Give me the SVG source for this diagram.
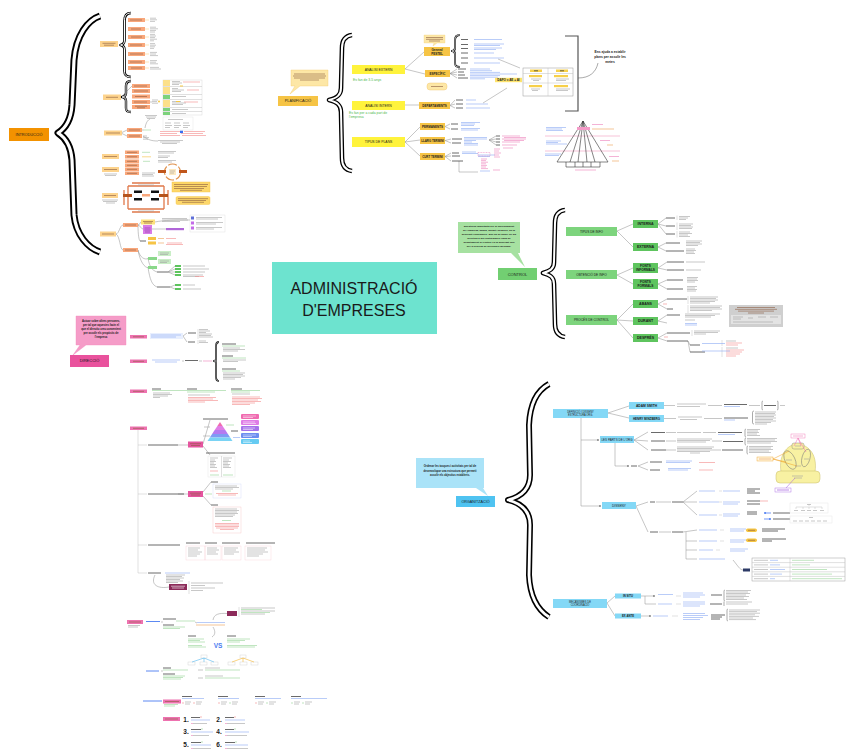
<svg xmlns="http://www.w3.org/2000/svg" width="848" height="755" viewBox="0 0 848 755">
<defs>
<style>
.t{font-family:"Liberation Sans",Arial,sans-serif;fill:#1a1a1a;text-anchor:middle}
.tb{font-family:"Liberation Sans",Arial,sans-serif;fill:#1a1a1a;text-anchor:middle;font-weight:bold}
.ts{font-family:"Liberation Sans",Arial,sans-serif}
.bo{fill:none;stroke:#000;stroke-linejoin:round}
.bi{fill:none;stroke:#fff;stroke-linejoin:round}
.c{fill:none;stroke:#8c8c8c;stroke-width:.5}
.cd{fill:none;stroke:#555;stroke-width:.5}
.k{fill:none;stroke:#a3a3a3;stroke-width:.6}
.kb{fill:none;stroke:#444;stroke-width:.8}
.kd{fill:none;stroke:#8a5a40;stroke-width:.6}
.b{fill:none;stroke:#8aaaf3;stroke-width:.6}
.g{fill:none;stroke:#96d496;stroke-width:.6}
.r{fill:none;stroke:#f48a8a;stroke-width:.6}
.m{fill:none;stroke:#ec80bb;stroke-width:.6}
.o{fill:none;stroke:#eda050;stroke-width:.6}
.gy{fill:none;stroke:#c0c0c0;stroke-width:.5}
.io{fill:#fdd38c}
.is{fill:#f9a77b}
.py{fill:#fff33c}
.po{fill:#f6c445}
.cg{fill:#7dd47d}
.cs{fill:#5ec45e}
.dp{fill:#ee72b0}
.ob{fill:#84d8f6}
</style>
<marker id="ar" viewBox="0 0 6 6" refX="5" refY="3" markerWidth="4" markerHeight="4" orient="auto"><path d="M0,0 L6,3 L0,6 z" fill="#666"/></marker>
<marker id="ab" viewBox="0 0 6 6" refX="5" refY="3" markerWidth="3" markerHeight="3" orient="auto-start-reverse"><path d="M0,0 L6,3 L0,6 z" fill="#3a6ff0"/></marker>
</defs>
<rect width="848" height="755" fill="#fff"/>

<!-- ================= TITLE ================= -->
<g id="title">
<rect x="272" y="262" width="165" height="72" fill="#6de3cf"/>
<text class="t" x="354" y="294" font-size="16">ADMINISTRACIÓ</text>
<text class="t" x="354" y="316" font-size="16">D'EMPRESES</text>
</g>

<!-- ================= CONNECTORS ================= -->
<g id="connectors">
<path class="c" d="M405,69 L424,52 M405,69 L425,74 M405,105 H419 M405,142 L420,127 M405,142 L420,140 M405,142 L420,156"/>
<path class="c" d="M498,59 L520,68 M483,103 L507,88"/>
<path class="c" d="M450,73.5 L457,69 M450,73.5 L457,72 M450,73.5 L457,75 M450,73.5 L457,78 M450,105.5 L455,100 M450,105.5 L455,104 M450,105.5 L455,108 M445,126.5 L450,124 M445,126.5 L450,129 M445,140.5 L451,139 M445,140.5 L451,143 M445,156.5 L451,153 M445,156.5 L451,156 M445,156.5 L451,161 M459,161 V172 H478"/>
<path class="cd" d="M578,78 C590,78 596,72 598,63"/>
<path class="c" d="M617,231 L633,224 M617,231 L633,247 M617,275 L633,268 M617,275 L633,284 M617,320 L633,304 M617,320 L633,321 M617,320 L633,338"/>
<path class="c" d="M658,224 L666,218 M658,224 L666,226 M658,224 L666,234 M658,247 L666,243 M658,247 L666,251 M658,268 L667,262 M658,268 L667,270 M658,284 L667,280 M658,284 L667,289 M658,304 L667,299 M658,304 L667,309 M658,321 L667,315 M658,321 L667,323 M658,338 L667,333 M658,338 L667,341 M688,341 L690,345 M688,341 L690,352"/>
<path class="c" d="M608,413 L629,406 M608,413 L629,418 M581,418 V506 M607,603 L615,596 M607,603 L615,616"/>
<path class="c" marker-end="url(#ar)" d="M581,440 H599"/>
<path class="c" marker-end="url(#ar)" d="M581,506 H601"/>
<path class="c" d="M634,440 L648,432 M634,440 L648,441 M634,440 L648,450 M615,443 V466"/>
<path class="c" marker-end="url(#ar)" d="M615,466 H629"/>
<path class="c" d="M638,466 L648,462 M638,466 L648,470 M636,506 L648,502 M636,506 L648,532 M683,502 L697,491 M683,502 L697,502 M683,502 L697,515 M683,532 L697,530 M686,532 V559 M686,541 H697 M686,550 H697 M686,559 H697"/>
<path class="c" d="M733,560 C738,566 740,570 743,570"/>
<path class="c" marker-end="url(#ar)" d="M641,596 H655"/>
<path class="c" d="M645,596 V604 H656"/>
<path class="c" marker-end="url(#ar)" d="M641,616 H651"/>
<path class="c" d="M664,405.5 H675 M708,405.5 H722 M749,405.5 H760 M664,418.5 H676 M704,418.5 H722 M666,432.5 H676 M666,441 H676 M666,450 H676 M703,432.5 H716 M712,441 H722 M714,450 H721"/>
<path class="c" d="M183,336 L187,333 M183,336 L187,342 M182,361 H184 M199,361 H202"/>
<path class="gy" d="M138,430 V573 M138,445 H147 M138,494 H147 M138,545 H147 M138,573 H147"/>
<path class="c" d="M178,445 H188 M203,444 L210,420 M203,446 L210,455 M178,494 H188 M203,492 L211,482 M203,496 L211,505 M155,575 C150,585 158,589 169,587"/>
<path class="c" d="M161,622 H163 M195,622 L197,623 M213,627 C216,632 215,635 212,637 M213,620 C214,614 219,613 227,613.5"/>
<path class="c" d="M161,671 H163 M198,670 H203 M198,678 H203"/>
<path class="c" d="M121,97 L132,86 M150,102 H152 M121,133 L127,130 M121,133 L127,136 M142,130 H144 M143,136 C148,140 152,141 158,141 M145,128 C146,122 148,120 150,119"/>
<path class="c" d="M116,234 C119,234 120,225 123,225 M116,234 C120,236 120,250 123,250 M138,225 C140,225 140,222 141,222 M138,225 C140,225 141,229 143,229 M138,225 C138,235 139,240 140,241 M155,222 C165,220 175,220 190,220 M152,229 C158,229 160,229 166,229 M138,250 C140,258 145,260 148,258.5 M138,250 C140,262 145,268 148,267.5 M148,258.5 C150,268 152,270 157,272 M148,267.5 C150,280 152,285 157,287"/>
<path class="c" d="M168,272 L175,266 M168,272 L175,269 M168,272 L175,272 M168,272 L175,275 M170,287 L175,285 M170,287 L175,289"/>
</g>

<!-- ================= INTRODUCCIO ================= -->
<g id="introduccio">
<rect x="9" y="128" width="40" height="13" fill="#f39200"/>
<text class="t" x="29" y="136" font-size="3.8">INTRODUCCIÓ</text>
</g>
<g id="brace-intro">
<path class="bo" stroke-width="7" d="M100,16 C88,20 76,35 74,60 L72,105 C71,120 66,128 58,133 C66,138 71,146 72,160 L74,215 C76,235 88,248 100,252"/>
<path class="bi" stroke-width="3.2" d="M100,16 C88,20 76,35 74,60 L72,105 C71,120 66,128 58,133 C66,138 71,146 72,160 L74,215 C76,235 88,248 100,252"/>
</g>

<g id="intro-b1">
<rect class="io" x="100" y="41" width="18" height="6"/>
<path class="kd" d="M102.5,43.3h13 M104,45.2h10"/>
<path class="bo" stroke-width="2.6" d="M131,13 C126,13 124.5,16 124.5,21 L124.5,40 C124.5,43 123.5,44.5 120.5,45 C123.5,45.5 124.5,47 124.5,50 L124.5,71 C124.5,75 126,77 131,77"/>
<path class="bi" stroke-width="1" d="M131,13 C126,13 124.5,16 124.5,21 L124.5,40 C124.5,43 123.5,44.5 120.5,45 C123.5,45.5 124.5,47 124.5,50 L124.5,71 C124.5,75 126,77 131,77"/>
<rect class="is" x="128" y="18" width="17" height="4"/><rect class="is" x="128" y="27" width="17" height="4"/><rect class="is" x="128" y="35" width="17" height="4"/><rect class="is" x="128" y="43" width="17" height="4"/><rect class="is" x="128" y="52" width="17" height="4"/><rect class="is" x="128" y="60" width="17" height="4"/><rect class="is" x="128" y="66" width="17" height="4"/>
<path class="kd" d="M130,20h12 M131,29h10 M131,37h11 M130,45h12 M130,54h13 M130,62h12 M131,68h11"/>
<path fill="none" stroke="#fdd38c" stroke-width=".6" d="M145,20h4 M145,29h4 M145,37h4 M145,45h4 M145,54h4 M145,62h4 M145,68h4"/>
<path class="k" d="M150,18.2h6 M150,19.8h7 M150,21.4h5 M150,27.2h6 M150,28.8h8 M150,30.4h6 M150,32h5 M150,34.4h5 M150,36h6 M150,37.6h5 M150,39.2h7 M150,40.8h4 M150,43.6h5 M150,45.2h6 M150,46.8h5 M150,48.4h4 M150,52.4h7 M150,54h6 M150,55.6h8 M150,60.6h7 M150,62.2h6 M150,63.8h8 M150,67.4h9 M150,69h11"/>
</g>

<g id="intro-b2">
<rect class="io" x="103" y="94.5" width="18" height="5.5"/>
<path class="kd" d="M106,97.3h12"/>
<path class="bo" stroke-width="2.4" d="M131,81 C127,81 126,83 126,86 L126,93 C126,95.5 125,96.5 122,97 C125,97.5 126,98.5 126,101 L126,108 C126,111 127,112 131,112"/>
<path class="bi" stroke-width=".9" d="M131,81 C127,81 126,83 126,86 L126,93 C126,95.5 125,96.5 122,97 C125,97.5 126,98.5 126,101 L126,108 C126,111 127,112 131,112"/>
<rect class="is" x="132" y="84" width="18" height="4"/><rect class="is" x="132" y="89" width="18" height="4"/><rect class="is" x="132" y="94.5" width="18" height="4"/><rect class="is" x="132" y="100" width="18" height="4"/><rect class="is" x="132" y="105" width="18" height="4"/>
<path class="kd" d="M134,86h13 M134,91h14 M135,96.5h12 M134,102h13 M135,106.2h12 M137,107.8h8"/>
<path class="k" d="M152,100h6 M152,101.6h5 M152,103.2h6"/>
<circle cx="159" cy="101.5" r="1" fill="#f7c843"/>
<rect x="163" y="80" width="39" height="35" fill="#fff" stroke="#d0d0d0" stroke-width=".4"/>
<rect x="163" y="80" width="7" height="6" fill="#fce08a"/><rect x="163" y="87" width="7" height="7" fill="#fce08a"/><rect x="163" y="95" width="7" height="4" fill="#7cd27c"/><rect x="163" y="100" width="7" height="7" fill="#fce08a"/><rect x="163" y="108" width="7" height="3" fill="#7cd27c"/><rect x="163" y="112" width="7" height="3" fill="#7cd27c"/>
<path class="gy" d="M163,86.5h39 M163,94.5h39 M163,99.5h39 M163,107.5h39 M163,111.5h39"/>
<path class="k" d="M172,81.5h8 M172,83h10 M172,84.5h7 M172,88.5h6 M172,90h12 M172,91.5h9 M172,96.5h14 M172,101.5h9 M172,103h14 M172,104.5h11 M172,109.5h16 M172,113.5h14"/>
<path class="r" d="M183,82h17 M184,102h14 M187,90h12"/>
<path fill="none" stroke="#f7c843" stroke-width="1" d="M180,86h3 M176,101.5h4"/>
</g>

<g id="intro-b3">
<rect class="io" x="104" y="130.5" width="18" height="5"/>
<path class="kd" d="M106,133h14"/>
<rect class="is" x="127" y="128" width="15" height="4"/><rect class="is" x="127" y="134" width="15" height="4"/>
<path class="kd" d="M129,130h11 M129,136h11"/>
<path class="g" d="M144,130h7"/>
<path class="k" d="M145,115.5h12 M146,117h10 M147,118.5h8 M158,140.5h25 M160,142h20 M162,143.5h15 M143,136h4 M143,137.6h6 M143,139.2h5"/>
<rect x="163" y="117" width="30" height="13" fill="#fff" stroke="#e0e0e0" stroke-width=".4"/>
<path class="k" d="M168,119.5h15 M165,123h6 M174,123h6 M183,123h6 M165,125.5h7 M174,125.5h7 M183,125.5h7 M165,127.5h5 M174,127.5h5 M183,127.5h5"/>
<path class="r" d="M160,131.5h21 M184,131.5h21 M160,133.5h17 M181,133.5h22 M160,135.5h20 M182,135.5h24"/>
<rect x="180" y="130.7" width="3" height="2.4" fill="#3a6ff0"/>
</g>

<g id="intro-b4">
<rect class="io" x="102" y="154" width="17" height="5"/>
<path class="kd" d="M104,156.5h13"/>
<rect class="is" x="125" y="150.5" width="14" height="3.5"/><rect class="is" x="125" y="155" width="14" height="3.5"/><rect class="is" x="125" y="159.5" width="14" height="3.5"/>
<path class="kd" d="M127,152.3h10 M127,156.8h10 M127,161.3h10"/>
<path class="g" d="M142,152.3h8 M143,161.3h7"/>
<path fill="none" stroke="#f7d070" stroke-width=".8" d="M142,156.8h9"/>
<path class="k" d="M158,151.5h18 M158,153h16 M158,156h12 M158,157.5h10 M158,160.5h18 M158,162h14"/>
</g>

<g id="intro-b5">
<rect class="io" x="102" y="167" width="17" height="5"/>
<path class="kd" d="M104,169.5h13"/>
<path class="k" d="M104,174h13 M105,175.5h11"/>
<rect class="is" x="125" y="163.5" width="14" height="3.5"/><rect class="is" x="125" y="167.5" width="14" height="3.5"/><rect class="is" x="125" y="171.5" width="14" height="3.5"/>
<path class="kd" d="M127,165.3h10 M127,169.3h10 M127,173.3h10"/>
<path class="k" d="M142,173h13 M142,174.5h11 M142,176h12"/>
<circle cx="172.5" cy="172" r="8" fill="none" stroke="#e0904a" stroke-width="1.1" stroke-dasharray="9 2"/>
<rect x="158" y="170" width="8" height="3" fill="#c0561c"/><rect x="179" y="170" width="8" height="3" fill="#c0561c"/>
<rect x="169" y="169" width="7" height="6" fill="#fde9c0"/>
<path class="k" d="M170,171h5 M170,173h4"/>
</g>

<g id="intro-b6">
<rect class="io" x="102" y="193" width="16" height="5"/>
<path class="kd" d="M104,195.5h12"/>
<path class="k" d="M102,200h16 M103,201.5h14 M106,203h9"/>
<path fill="none" stroke="#e0784a" stroke-width="1.3" d="M128,186 V209 M164,186 V209 M128,186 H164 M128,209 H164 M132,183 H160 M132,212 H160 M124,190 V205 M168,190 V205"/>
<path class="k" d="M138,185h16 M138,211h16"/>
<rect x="123" y="194" width="9" height="3" fill="#b5531c"/><rect x="159" y="194" width="9" height="3" fill="#b5531c"/>
<rect x="134" y="190.5" width="8" height="2.5" fill="#111"/><rect x="151" y="190.5" width="8" height="2.5" fill="#111"/><rect x="134" y="198" width="8" height="2.5" fill="#111"/><rect x="151" y="198" width="8" height="2.5" fill="#111"/>
<rect x="142" y="194" width="8" height="2.5" fill="#f9a77b"/>
<rect x="172" y="182" width="38" height="10" fill="#fdd76a" stroke="#f5c040" stroke-width=".4"/>
<path class="kd" d="M174,184.5h34 M174,186.5h33 M174,188.5h30 M180,190.3h22"/>
<rect x="176" y="196.5" width="34" height="8" rx="1.5" fill="#fdd76a" stroke="#f5c040" stroke-width=".4"/>
<path class="kd" d="M178,198.7h30 M178,200.5h28 M182,202.3h22"/>
</g>

<g id="intro-b7">
<rect class="io" x="100" y="231.5" width="16" height="5"/>
<path class="kd" d="M102,234h12"/>
<rect class="is" x="123" y="223" width="15" height="4"/>
<path class="kd" d="M125,225h11"/>
<rect x="141" y="219.5" width="14" height="5" fill="#fde17a"/>
<path class="kd" d="M143,221.5h10 M144,223h8"/>
<rect x="143" y="225" width="9" height="9" fill="#d97be8"/>
<path fill="none" stroke="#7a2a90" stroke-width=".5" d="M144.5,228h6 M144.5,230h6 M145,232h5"/>
<path class="kb" d="M140,241h6"/>
<rect x="148" y="237" width="8" height="3" fill="#f6c445"/><rect x="148" y="241.5" width="8" height="3" fill="#f6c445"/>
<path class="o" d="M158,238.5h6 M158,243h6"/>
<path class="r" d="M166,238.5h10 M167,243h15 M166,244.5h17"/>
<path class="k" d="M162,218.5h25 M162,220h26 M162,221.5h18"/>
<rect x="166" y="228" width="18" height="2.2" fill="#b065d8"/>
<rect x="190" y="215" width="35" height="17" fill="#fff" stroke="#dcdcdc" stroke-width=".4"/>
<rect x="191" y="216.5" width="3" height="3" fill="#5e6fd8"/><rect x="191" y="221.5" width="3" height="3" fill="#c46be8"/><rect x="191" y="226.5" width="3" height="3" fill="#c46be8"/>
<path class="k" d="M196,217.5h26 M196,219h22 M196,222.5h27 M196,224h20 M196,227.5h26 M196,229h18"/>
</g>

<g id="intro-b8">
<rect class="is" x="123" y="248" width="15" height="4"/>
<path class="kd" d="M125,250h11"/>
<rect x="148" y="257" width="9" height="3" fill="#8ad88a"/><rect x="148" y="266" width="9" height="3" fill="#8ad88a"/>
<rect x="158" y="251" width="13" height="5" fill="#c9eec6"/><rect x="158" y="259" width="13" height="5" fill="#c9eec6"/>
<path class="k" d="M160,253h9 M160,254.5h8 M160,261h9 M160,262.5h7"/>
<path class="kb" d="M157,272h11 M157,287h13"/>
<rect x="175" y="265" width="6" height="2" fill="#5ec45e"/><rect x="175" y="268" width="6" height="2" fill="#5ec45e"/><rect x="175" y="271" width="6" height="2" fill="#5ec45e"/><rect x="175" y="274" width="6" height="2" fill="#5ec45e"/><rect x="175" y="284" width="6" height="2" fill="#5ec45e"/><rect x="175" y="288" width="6" height="2" fill="#5ec45e"/>
<path class="k" d="M183,266h22 M183,269h26 M183,272h22 M183,275h20 M183,276.5h16 M183,285h12 M183,289h18"/>
<path class="r" d="M195,276.5h9"/>
</g>

<!-- ================= PLANIFICACIO ================= -->
<g id="planificacio">
<path d="M291,70 H328 V86 H300 L290,94 L295,86 H291 Z" fill="#fde7a6" stroke="#f3cd6e" stroke-width=".4"/>
<path class="kd" d="M294,74h31 M293,76h33 M294,78h31 M300,80h19"/>
<rect x="278" y="96" width="40" height="10" fill="#f6c445"/>
<text class="t" x="298" y="102.4" font-size="3.8">PLANIFICACIÓ</text>
</g>
<g id="brace-plan">
<path class="bo" stroke-width="4.6" d="M352,35 C345,36 342,40 342,48 L341,88 C341,95 337,98 329,100 C337,102 341,105 341,112 L342,158 C342,166 345,170 352,171"/>
<path class="bi" stroke-width="2" d="M352,35 C345,36 342,40 342,48 L341,88 C341,95 337,98 329,100 C337,102 341,105 341,112 L342,158 C342,166 345,170 352,171"/>
</g>
<g id="analisi-extern">
<rect class="py" x="352" y="65" width="53" height="9"/>
<text class="t" x="378.5" y="70.8" font-size="3.4">ANÀLISI EXTERN</text>
<text class="ts" x="353" y="81.3" font-size="3.4" fill="#4cb84c">Es fan de 3-5 anys</text>
</g>
<g id="analisi-intern">
<rect class="py" x="352" y="101" width="53" height="9"/>
<text class="t" x="378.5" y="106.8" font-size="3.4">ANÀLISI INTERN</text>
<text class="ts" x="349" y="113.8" font-size="3.4" fill="#4cb84c">Es fan per a cada part de</text>
<text class="ts" x="349" y="118.3" font-size="3.4" fill="#4cb84c">l'empresa</text>
</g>
<g id="tipus-plans">
<rect class="py" x="352" y="137" width="53" height="10"/>
<text class="t" x="378.5" y="143.2" font-size="3.4">TIPUS DE PLANS</text>
</g>
<g id="pestel">
<path d="M424,35 H445 V43 H437 L433,46 L434,43 H424 Z" fill="#fde7a6" stroke="#f3cd6e" stroke-width=".3"/>
<path class="kd" d="M426,37.5h17 M426,39.3h17 M429,41h11"/>
<rect class="po" x="424" y="47" width="26" height="9"/>
<text class="tb" x="437" y="51" font-size="3">General</text>
<text class="tb" x="437" y="54.6" font-size="3">PESTEL</text>
<path class="bo" stroke-width="2" d="M460,35 C456,35 455,37 455,40 L455,48 C455,50 454,51 452,51 C454,51 455,52 455,54 L455,63 C455,66 456,67 460,67"/>
<path class="bi" stroke-width=".8" d="M460,35 C456,35 455,37 455,40 L455,48 C455,50 454,51 452,51 C454,51 455,52 455,54 L455,63 C455,66 456,67 460,67"/>
<path class="kb" d="M461,39.5h7 M461,44.5h7 M461,48.5h7 M461,53h7 M461,58h7 M461,63h7"/>
<path class="b" d="M474,39.5h28 M474,44h30 M474,45.5h26 M474,48h28 M474,49.5h22 M474,53h20 M474,58h30 M474,63h26"/>
</g>
<g id="especific">
<rect class="po" x="425" y="70" width="25" height="7"/>
<text class="tb" x="437.5" y="74.8" font-size="3">ESPECÍFIC</text>
<path class="kb" d="M458,69h8 M458,72h6 M458,75h7 M458,78h10"/>
<path class="b" d="M470,69h20 M470,70.7h22 M470,72.4h30 M470,74h47 M470,75.6h30 M470,77.2h28 M470,78.8h15"/>
<rect x="427" y="83" width="20" height="7" rx="3" fill="#fde7a6" stroke="#f0c060" stroke-width=".4"/>
<path class="kd" d="M431,86.5h12"/>
</g>
<g id="departaments">
<rect class="po" x="419" y="102" width="31" height="7"/>
<text class="tb" x="434.5" y="106.8" font-size="3">DEPARTAMENTS</text>
<path class="kb" d="M456,100h7 M456,104h7 M456,108h7"/>
<path class="b" d="M466,100h10 M466,104h22 M466,108h24"/>
</g>
<g id="dafo">
<rect x="495" y="77.8" width="27" height="4.4" fill="#fde36e"/>
<text class="tb" x="508.5" y="81.2" font-size="3">DAFO = AE + AI</text>
<rect x="523" y="68" width="50" height="28" fill="#fff" stroke="#999" stroke-width=".5"/>
<path class="gy" d="M548,68 V96 M523,73.5 H573 M523,83 H573"/>
<rect x="530" y="69.5" width="12" height="2.5" fill="#f7d04a"/><rect x="556" y="69.5" width="12" height="2.5" fill="#f7d04a"/>
<rect x="529" y="75" width="13" height="2.2" fill="#f7d04a"/><rect x="554" y="75" width="14" height="2.2" fill="#f7d04a"/>
<rect x="529" y="85" width="13" height="2.2" fill="#f7d04a"/><rect x="554" y="85" width="14" height="2.2" fill="#f7d04a"/>
<path class="kb" d="M534,70.8h4 M560,70.8h4"/>
<path class="k" d="M531,79h10 M533,80.5h6 M556,79h13 M556,80.5h10 M531,89h9 M532,90.5h6 M556,89h14 M556,90.5h12"/>
<path fill="none" stroke="#555" stroke-width="1.2" d="M565,36 H578 V111 H565"/>
<text class="tb" x="610" y="52.5" font-size="3.3">Ens ajuda a establir</text>
<text class="tb" x="610" y="57.7" font-size="3.3">plans per assolir les</text>
<text class="tb" x="610" y="62.9" font-size="3.3">metes</text>
</g>
<g id="permanents">
<rect class="po" x="420" y="123" width="25" height="7"/>
<text class="tb" x="432.5" y="127.8" font-size="3">PERMANENTS</text>
<path class="kb" d="M451,124h7 M451,129h7"/>
<path class="b" d="M461,122.5h19 M461,124h14 M461,125.5h13 M461,128.5h19 M461,130h17"/>
</g>
<g id="llarg-termini">
<rect class="po" x="420" y="137" width="25" height="7"/>
<text class="tb" x="432.5" y="141.8" font-size="2.9">LLARG TERMINI</text>
<path class="kb" d="M452,139h10 M452,143h9"/>
<path class="b" d="M464,137.5h23 M464,139h23 M464,140.5h12 M464,142h8 M464,143.5h14 M464,145h14"/>
<path class="c" d="M489,140 L496,136 M489,140 L496,139 M489,140 L496,142 M489,140 L496,145"/>
<path class="kb" d="M496,136h4 M496,139h4 M496,142h4 M496,145h4"/>
<path class="m" d="M502,136h18 M504,137.5h22 M502,139h24 M504,140.5h20 M502,142h18 M502,145h15 M503,148h10"/>
</g>
<g id="curt-termini">
<rect class="po" x="420" y="153" width="25" height="7"/>
<text class="tb" x="432.5" y="157.8" font-size="2.9">CURT TERMINI</text>
<path class="kb" d="M452,153h7 M452,156h8 M452,161h11"/>
<path class="b" d="M462,152h14 M462,153.5h16 M478,155h17 M478,156.5h12 M480,171h10"/>
<rect x="478" y="152.5" width="12" height="3.5" fill="none" stroke="#e65aa8" stroke-width=".4" stroke-dasharray="1 .6"/>
<path class="m" d="M481,159h6 M481,160.6h5 M481,162.2h7 M481,163.8h5 M481,165.4h6 M481,167h5 M481,168.6h7 M493,170h7 M494,149h6 M494,151h5 M494,153h7 M494,155h5 M494,157h6"/>
</g>
<g id="piramide-plans">
<path fill="none" stroke="#f7c3d8" stroke-width="1" d="M545,136h75 M545,151h75"/>
<path fill="none" stroke="#333" stroke-width=".6" d="M583,121 L557,162 H608 Z M583,121 L570,162 M583,121 L578,162 M583,121 L587,162 M583,121 L595,162 M566,162 V167 H600 V162 M575,162 V167 M583,162 V167 M591,162 V167"/>
<rect x="577" y="127" width="13" height="3" fill="#f59bc8"/>
<path class="b" d="M546,127.5h20 M546,129h16 M546,130.5h17 M546,141h15 M546,142.5h12 M546,144h21 M545,154h16 M545,155.5h14"/>
<path class="m" d="M592,124.5h11 M600,140.5h10 M609,156.5h10 M575,170h21"/>
<path class="o" d="M592,129h22 M607,145h6 M612,161h7"/>
</g>

<!-- ================= CONTROL ================= -->
<g id="control">
<path d="M458,222 H520 V253 H518 L525,267 L511,253 H458 Z" fill="#a6e1a1"/>
<text class="tb" x="489" y="227" font-size="2.5">Questions importants per al funcionament</text>
<text class="tb" x="489" y="231" font-size="2.5">de l'empresa, abans, durant i després, on fa</text>
<text class="tb" x="489" y="235" font-size="2.5">generant l'informació. Que ha de poder fer als</text>
<text class="tb" x="489" y="239" font-size="2.5">directius a als controladors (caps de</text>
<text class="tb" x="489" y="243" font-size="2.5">departament) El control es fa generant info</text>
<text class="tb" x="489" y="247" font-size="2.5">per a la presa de decisions racionals.</text>
<rect x="498" y="268" width="39" height="12" fill="#72cf72"/>
<text class="t" x="517.5" y="275.5" font-size="4">CONTROL</text>
</g>
<g id="brace-control">
<path class="bo" stroke-width="4.6" d="M565,210 C558,211 555,215 555,223 L554,262 C554,269 550,271 543,273 C550,275 554,277 554,284 L555,324 C555,332 558,336 565,337"/>
<path class="bi" stroke-width="2" d="M565,210 C558,211 555,215 555,223 L554,262 C554,269 550,271 543,273 C550,275 554,277 554,284 L555,324 C555,332 558,336 565,337"/>
</g>
<g id="tipus-info">
<rect class="cg" x="566" y="227" width="51" height="9"/>
<text class="t" x="591.5" y="232.6" font-size="3.2">TIPUS DE INFO</text>
</g>
<g id="obtencio-info">
<rect class="cg" x="566" y="270" width="51" height="9"/>
<text class="t" x="591.5" y="275.6" font-size="3.2">OBTENCIÓ DE INFO</text>
</g>
<g id="proces-control">
<rect class="cg" x="566" y="315" width="51" height="10"/>
<text class="t" x="591.5" y="321.2" font-size="3.2">PROCÉS DE CONTROL</text>
</g>
<g id="interna">
<rect class="cs" x="633" y="220" width="25" height="8"/>
<text class="tb" x="645.5" y="225.4" font-size="3.6">INTERNA</text>
<path class="kb" d="M666,218h9 M666,226h9 M666,234h9"/>
<path class="gy" d="M677,215.5 V220 M677,222.5 V230 M677,231 V237.5"/>
<path class="k" d="M679,216.5h11 M679,218h9 M679,219.5h7 M679,224h14 M679,225.5h12 M679,227h14 M679,228.5h13 M679,232h11 M679,233.5h13 M679,235h9 M679,236.5h11"/>
</g>
<g id="externa">
<rect class="cs" x="633" y="243" width="25" height="8"/>
<text class="tb" x="645.5" y="248.4" font-size="3.6">EXTERNA</text>
<path class="kb" d="M666,243h14 M666,251h18"/>
<path class="k" d="M686,241h16 M686,242.5h14 M686,244h16 M686,245.5h12 M686,249h9 M686,250.5h10 M686,252h8 M686,253.5h9"/>
</g>
<g id="fonts-informals">
<rect class="cs" x="633" y="263" width="25" height="10"/>
<text class="tb" x="645.5" y="267.2" font-size="3.2">FONTS</text>
<text class="tb" x="645.5" y="271.2" font-size="3.2">INFORMALS</text>
<path class="kb" d="M667,262h17 M667,270h17"/>
<path class="k" d="M686,262h19 M686,270h15"/>
</g>
<g id="fonts-formals">
<rect class="cs" x="633" y="279" width="25" height="10"/>
<text class="tb" x="645.5" y="283.2" font-size="3.2">FONTS</text>
<text class="tb" x="645.5" y="287.2" font-size="3.2">FORMALS</text>
<path class="kb" d="M667,280h16 M667,289h16"/>
<path class="k" d="M687,277.5h11 M687,279h10 M687,280.5h11 M687,282h8 M687,286.5h10 M687,288h8 M687,289.5h10 M687,291h9"/>
</g>
<g id="abans">
<rect class="cs" x="633" y="300" width="25" height="8"/>
<text class="tb" x="645.5" y="305.4" font-size="3.6">ABANS</text>
<path class="kb" d="M667,299h20 M667,309h6"/>
<path class="r" d="M663,304h4"/>
<path class="gy" d="M688,296 V304 M688,305 V313"/>
<path class="k" d="M690,297h28 M690,298.5h26 M690,300h28 M690,301.5h25 M690,303h20 M690,306h32 M690,307.5h30 M690,309h32 M690,310.5h22"/>
</g>
<g id="durant">
<rect class="cs" x="633" y="317" width="25" height="8"/>
<text class="tb" x="645.5" y="322.4" font-size="3.6">DURANT</text>
<path class="kb" d="M667,315h13"/>
<path class="k" d="M685,314h35 M685,315.5h30 M685,317h26 M685,320h10"/>
<path class="b" d="M685,323.5h12 M685,325h12"/>
</g>
<g id="despres">
<rect class="cs" x="633" y="334" width="25" height="8"/>
<text class="tb" x="645.5" y="339.4" font-size="3.6">DESPRÉS</text>
<path class="kb" d="M667,333h23 M667,341h21 M690,345h10 M690,352h15"/>
<path class="r" d="M664,337h4 M726,343h16 M726,345h12 M726,350h18 M726,352h16 M726,354h14 M726,356h10"/>
<path class="gy" d="M692,330 V336 M722,340 V346 M722,347 V357"/>
<path class="k" d="M694,331h26 M694,332.5h24 M694,334h12 M726,341h10 M726,348h12"/>
<path class="b" d="M702,343.5h23 M702,351h28"/>
</g>
<g id="taula-control">
<rect x="729" y="305" width="54" height="22" fill="#cfcfcf"/>
<path class="kd" d="M737,307.5h38 M735,309.3h42 M738,311.1h36 M748,313h16"/>
<rect x="731" y="315" width="50" height="9" fill="#e3e3e3"/>
<path class="k" d="M733,317h10 M733,319h8 M748,318h5 M758,317h8 M770,317h8 M733,322h40"/>
</g>

<!-- ================= DIRECCIO ================= -->
<g id="direccio">
<path d="M76,316 H126 V345 H86 L73,355 L80,345 H76 Z" fill="#f59cc8" stroke="#f28abd" stroke-width=".4"/>
<text class="tb" x="101" y="321.5" font-size="2.7">Actuar sobre altres persones,</text>
<text class="tb" x="101" y="325.6" font-size="2.7">per tal que aquestes facin el</text>
<text class="tb" x="101" y="329.7" font-size="2.7">que el directiu creu convenient</text>
<text class="tb" x="101" y="333.8" font-size="2.7">per assolir els propòsits de</text>
<text class="tb" x="101" y="337.9" font-size="2.7">l'empresa</text>
<rect x="70" y="355" width="39" height="12" fill="#e9529d"/>
<text class="t" x="89.5" y="362.4" font-size="4">DIRECCIÓ</text>
</g>
<g id="dir-b1">
<rect class="dp" x="130" y="335" width="17" height="3.5"/>
<path class="kd" d="M133,336.8h11"/>
<rect x="150" y="333" width="33" height="6" fill="#e8effe"/>
<path class="b" d="M151,335h30 M151,337h25"/>
<path class="kb" d="M188,333h8 M188,342h7"/>
<path class="gy" d="M198,329 V339 M198,340 V344"/>
<path class="k" d="M199,329.5h9 M199,331h11 M199,332.5h7 M199,334h13 M199,335.5h12 M199,337h14 M199,341h7 M199,342.5h9"/>
</g>
<g id="dir-b2">
<rect class="dp" x="130" y="359.5" width="17" height="3.5"/>
<path class="kd" d="M133,361.3h11"/>
<path class="b" d="M152,360h28 M155,362h22"/>
<path class="kb" d="M185,360.5h13"/>
<path class="m" d="M203,361h9"/>
<path class="bo" stroke-width="1.8" d="M219,342 C216,342 216,344 216,346 L216,359 C216,360.5 215,361 214,361 C215,361 216,361.5 216,363 L216,377 C216,379 216,381 219,381"/>
<path class="bi" stroke-width=".6" d="M219,342 C216,342 216,344 216,346 L216,359 C216,360.5 215,361 214,361 C215,361 216,361.5 216,363 L216,377 C216,379 216,381 219,381"/>
<path class="kb" d="M222,344h14 M222,356h11 M222,369h14"/>
<path class="g" d="M222,346h23 M222,358h24 M222,371h18"/>
<path class="k" d="M223,348h17 M223,349.5h22 M223,351h15 M223,360h23 M223,361.5h15 M223,373h22 M223,374.5h20 M223,376h22 M223,377.5h18 M223,379h12"/>
</g>
<g id="dir-b3">
<rect class="dp" x="130" y="389.5" width="17" height="3.5"/>
<path class="kd" d="M133,391.3h11"/>
<path class="kb" d="M152,389h9 M187,389h10 M231,389h11"/>
<path class="g" d="M152,390.5h35 M187,390.5h39 M187,392h28 M231,390.5h29 M231,392h19"/>
<path class="k" d="M153,393h17 M153,394.5h19 M153,396h15 M153,397.5h7 M188,395h22 M232,394h18"/>
<path class="r" d="M188,397.5h28 M188,399h25 M188,400.5h30 M188,402h17 M232,397h28 M232,398.5h30 M232,400h26 M232,401.5h29 M232,403h23 M232,404.5h18"/>
</g>
<g id="dir-b4">
<rect class="dp" x="130" y="426.5" width="17" height="3.5"/>
<path class="kd" d="M133,428.3h11"/>
<path class="kb" d="M148,445h30 M148,494h36 M148,545h32 M148,573h13"/>
</g>
<g id="dir-piramide">
<rect x="188" y="441.5" width="15" height="6" fill="#e5559f"/>
<path class="kd" d="M190,443.7h11 M191,445.5h9"/>
<path class="kb" d="M203,419h25"/>
<polygon points="220,422 222.6,426 217.4,426" fill="#f06bb0"/>
<polygon points="217.4,426 222.6,426 225.3,430 214.7,430" fill="#e07ee6"/>
<polygon points="214.7,430 225.3,430 227.9,434 212.1,434" fill="#b47af0"/>
<polygon points="212.1,434 227.9,434 230.2,437.5 209.8,437.5" fill="#7f9bf4"/>
<polygon points="209.8,437.5 230.2,437.5 232.5,441 207.5,441" fill="#7ad3f4"/>
<path class="k" d="M204,427h6 M203,436h7"/>
<path class="g" d="M226,425h8"/>
<path class="kb" d="M231,431h7"/>
<path class="b" d="M233,437.5h7"/>
<rect x="241" y="414" width="18" height="5" rx="1" fill="#f06bb0"/>
<rect x="241" y="420" width="18" height="5" rx="1" fill="#df7ce6"/>
<rect x="241" y="426" width="18" height="5" rx="1" fill="#a673ea"/>
<rect x="241" y="433" width="18" height="5" rx="1" fill="#6d8ff0"/>
<rect x="241" y="439" width="18" height="5" rx="1" fill="#66cbf2"/>
<path fill="none" stroke="#fff" stroke-width=".5" d="M243,416h13 M243,417.5h10 M243,422h12 M243,423.5h13 M243,428h12 M243,429.5h10 M243,435h13 M243,436.5h9 M243,441h7 M243,442.5h9"/>
<path class="kb" d="M206,453h29"/>
<rect x="208" y="456" width="27" height="21" fill="none" stroke="#e2e2e2" stroke-width=".4"/>
<path class="gy" d="M221.5,456 V477"/>
<path class="k" d="M210,458h8 M223,458h9 M210,460h5 M210,461.5h6 M210,463h4 M210,464.5h6 M210,466h5 M210,467.5h7 M223,460h6 M223,461.5h8 M223,463h5 M223,464.5h7 M223,466h6 M223,467.5h8"/>
<path class="r" d="M210,471h8"/>
<path class="g" d="M210,475h9 M223,475h10"/>
</g>
<g id="dir-comunicacio">
<rect x="188" y="491" width="15" height="6" fill="#e5559f"/>
<path class="kd" d="M190,493.2h11 M191,495h9"/>
<path class="g" d="M205,494h7"/>
<path class="kb" d="M211,482h7 M211,505h7"/>
<rect x="213" y="484" width="28" height="14" fill="none" stroke="#cfd8f8" stroke-width=".4"/>
<path class="k" d="M215,486h22 M215,487.5h24 M215,489h18"/>
<path class="g" d="M222,491h9"/>
<path class="r" d="M216,493.5h22 M218,495h18"/>
<rect x="213" y="507" width="28" height="26" fill="none" stroke="#f5c0c0" stroke-width=".4"/>
<path class="k" d="M215,509h22 M215,510.5h24 M215,512h22 M215,513.5h23 M215,515h20 M215,516.5h18"/>
<path class="g" d="M222,520.5h9"/>
<path class="r" d="M215,523.5h24 M215,525h24 M215,526.5h24 M216,528h22 M220,529.5h14"/>
</g>
<g id="dir-equips">
<path class="kb" d="M186,543h14 M205,543h12 M222,543h18 M246,543h29"/>
<rect x="186" y="546" width="19" height="14" fill="none" stroke="#f7cfd8" stroke-width=".4"/>
<rect x="205" y="546" width="16" height="14" fill="none" stroke="#f7cfd8" stroke-width=".4"/>
<rect x="222" y="546" width="19" height="14" fill="none" stroke="#f7cfd8" stroke-width=".4"/>
<rect x="245" y="546" width="26" height="14" fill="none" stroke="#f7cfd8" stroke-width=".4"/>
<path class="k" d="M188,548h12 M188,550h10 M188,552h14 M188,554h12 M188,556h9 M207,548h10 M207,550h12 M207,552h9 M207,554h11 M224,548h14 M224,550h12 M224,552h15 M224,554h10 M247,548h20 M247,550h18 M247,552h21 M247,554h16 M247,556h12"/>
</g>
<g id="dir-conclusio">
<path class="b" d="M165,573h25"/>
<path class="k" d="M166,575h19 M166,576.5h16 M166,578h18 M166,579.5h14 M166,581h17 M166,582.5h12"/>
<rect x="169" y="584" width="18" height="6" fill="#8c2b5a"/>
<path fill="none" stroke="#fff" stroke-width=".6" d="M171,586.2h14 M172,588h12"/>
<path class="gy" d="M189,581 V594"/>
<path class="k" d="M191,583h32 M191,585.5h14 M191,588h24 M191,590.5h12"/>
</g>
<g id="dir-lideratge">
<rect class="dp" x="127" y="620" width="16" height="4"/>
<path class="kd" d="M129,622h12"/>
<path class="k" d="M128,625.5h12 M128,627h10"/>
<path fill="none" stroke="#4a7cf0" stroke-width=".9" d="M146,621.5h14"/>
<path class="kb" d="M163,619h13 M163,625h11"/>
<path class="g" d="M176,621h19 M163,627h22 M163,628.5h17"/>
<path class="b" d="M197,622.5h28"/>
<path class="o" d="M196,625h29"/>
<rect x="227" y="611" width="10" height="5" fill="#8c2b5a"/>
<path class="gy" d="M239,607 V617"/>
<path class="k" d="M241,608h34 M241,611h34 M241,614h24"/>
<path class="g" d="M241,609.5h21 M241,612.5h29"/>
<path class="kb" d="M188,636h8 M227,636h9"/>
<path class="g" d="M188,639h16 M188,640.5h12 M188,642h17 M188,645.5h14 M188,647h18 M227,639h23 M227,640.5h18 M227,642h13 M227,645.5h30 M227,647h28"/>
<text x="218" y="647.5" font-family="Liberation Sans,Arial,sans-serif" font-size="6.5" font-weight="bold" fill="#4a7cf0" text-anchor="middle">VS</text>
<rect x="201" y="655" width="6" height="3" fill="#fff" stroke="#ccc" stroke-width=".4"/>
<rect x="188" y="662" width="7" height="3" fill="#fff" stroke="#ccc" stroke-width=".4"/>
<rect x="200" y="662" width="7" height="3" fill="#fff" stroke="#ccc" stroke-width=".4"/>
<rect x="211" y="662" width="7" height="3" fill="#fff" stroke="#ccc" stroke-width=".4"/>
<path fill="none" stroke="#55b8f0" stroke-width=".6" d="M204,658 L192,662 M204,658 V662 M204,658 L214,662"/>
<rect x="240" y="655" width="6" height="3" fill="#fff" stroke="#ccc" stroke-width=".4"/>
<rect x="228" y="662" width="7" height="3" fill="#fff" stroke="#ccc" stroke-width=".4"/>
<rect x="240" y="662" width="7" height="3" fill="#fff" stroke="#ccc" stroke-width=".4"/>
<rect x="251" y="662" width="7" height="3" fill="#fff" stroke="#ccc" stroke-width=".4"/>
<path fill="none" stroke="#f5b731" stroke-width=".6" d="M243,658 L232,662 M243,658 V662 M243,658 L254,662"/>
</g>
<g id="dir-motivacio">
<path fill="none" stroke="#4a7cf0" stroke-width=".9" d="M146,671h13"/>
<path class="kb" d="M163,668h8 M163,674h12"/>
<path class="g" d="M163,670h25 M163,676h22 M163,677.5h20 M163,679h18 M205,670h35 M205,678h35"/>
<path class="k" d="M205,668h15 M205,676h18"/>
</g>
<g id="dir-classificacio">
<path fill="none" stroke="#4a7cf0" stroke-width=".9" d="M143,701h19"/>
<rect class="dp" x="163" y="699.5" width="18" height="4"/>
<path class="kd" d="M165,701.5h14"/>
<path class="g" d="M164,704.5h14 M164,706h11"/>
<path class="kb" d="M182,696.5h10 M218,696.5h10 M255,696.5h10 M291,696.5h10"/>
<path class="b" d="M182,698.5h22 M218,698.5h21 M255,698.5h26 M291,698.5h36"/>
<path class="r" d="M183,702v2 M194,702v2 M219,702v2 M256,702v2"/>
<path class="g" d="M230,702v2 M267,702v2 M292,702v2 M303,702v2"/>
<path class="k" d="M185,702h6 M185,704h5 M196,702h6 M196,704h5 M221,702h6 M221,704h5 M232,702h6 M232,704h5 M258,702h6 M258,704h5 M269,702h7 M269,704h5 M294,702h6 M294,704h5 M305,702h7 M305,704h5"/>
</g>
<g id="dir-llista">
<rect class="dp" x="163" y="717" width="17" height="4"/>
<path class="kd" d="M165,719h13"/>
<text class="tb" x="186" y="722" font-size="6.5">1.</text>
<text class="tb" x="219" y="722" font-size="6.5">2.</text>
<text class="tb" x="186" y="734" font-size="6.5">3.</text>
<text class="tb" x="219" y="734" font-size="6.5">4.</text>
<text class="tb" x="186" y="747" font-size="6.5">5.</text>
<text class="tb" x="219" y="747" font-size="6.5">6.</text>
<path class="kb" d="M191,717.5h9 M225,717.5h9 M191,729.5h10 M225,729.5h9 M191,742.5h10 M225,742.5h10"/>
<path class="r" d="M201,716v2 M235,716v2"/>
<path class="g" d="M202,728v2 M235,728v2 M202,741v2 M236,741v2"/>
<path class="b" d="M191,720h19 M225,720h20 M191,732h22 M225,732h24 M191,745h20 M225,745h23"/>
<path class="k" d="M193,723.5h14 M227,723.5h18 M193,735.5h16 M227,735.5h20 M193,748.5h18 M227,748.5h21"/>
<path class="m" d="M191,723.5h2 M225,723.5h2 M191,735.5h2 M225,735.5h2 M191,748.5h2 M225,748.5h2"/>
</g>

<!-- ================= ORGANITZACIO ================= -->
<g id="organitzacio">
<path d="M416,458 H484 V488 H483 L488,496 L476,488 H416 Z" fill="#aae3f8"/>
<text class="tb" x="450" y="467" font-size="2.7">Ordenar les tasques i activitats per tal de</text>
<text class="tb" x="450" y="471.5" font-size="2.7">desenvolupar una estructura que permeti</text>
<text class="tb" x="450" y="476" font-size="2.7">assolir els objectius establerts.</text>
<rect x="456" y="496" width="39" height="11" fill="#4fc3f1"/>
<text class="t" x="475.5" y="503" font-size="3.7">ORGANITZACIÓ</text>
</g>
<g id="brace-org">
<path class="bo" stroke-width="6" d="M549,384 C538,390 530,402 529,425 L530,475 C530,490 520,497 508,500 C520,503 530,510 530,525 L529,575 C530,598 538,610 549,617"/>
<path class="bi" stroke-width="2.8" d="M549,384 C538,390 530,402 529,425 L530,475 C530,490 520,497 508,500 C520,503 530,510 530,525 L529,575 C530,598 538,610 549,617"/>
</g>
<g id="definicio">
<rect class="ob" x="553" y="409" width="55" height="9"/>
<text class="t" x="580.5" y="412.8" font-size="2.6">DEFINICIÓ I DISSENY</text>
<text class="t" x="580.5" y="416.4" font-size="2.6">ESTRUCTURA ORG.</text>
</g>
<g id="adam-smith">
<rect class="ob" x="629" y="402" width="35" height="7"/>
<text class="tb" x="646.5" y="406.9" font-size="3.3">ADAM SMITH</text>
<path class="k" d="M677,404h29 M677,406.5h23"/>
<path class="kb" d="M724,404.5h23 M764,405.5h12"/>
<path class="b" d="M724,406.5h16"/>
<path class="cd" d="M763,401 C762,401 762,402 762,403 V408 C762,409 762,410 763,410 M777,401 C778,401 778,402 778,403 V408 C778,409 778,410 777,410"/>
<path class="k" d="M780,405.5h5"/>
</g>
<g id="henry-minzberg">
<rect class="ob" x="629" y="415" width="35" height="7"/>
<text class="tb" x="646.5" y="419.9" font-size="3">HENRY MINZBERG</text>
<path class="k" d="M678,417h24 M680,419.5h17"/>
<path class="kb" d="M724,418h24"/>
<path class="b" d="M724,420h11"/>
<path class="cd" d="M754,411 C752.5,411 752.5,412 752.5,413 V422 C752.5,423 752.5,424 754,424"/>
<path class="k" d="M755,412h21 M755,413.5h20 M755,415h21 M755,416.5h19 M755,418h21 M755,419.5h18 M755,421h21 M755,422.5h16 M755,424h12"/>
</g>
<g id="parts-org">
<rect class="ob" x="600" y="436" width="34" height="7"/>
<text class="t" x="617" y="441" font-size="3">LES PARTS DE L'ORG</text>
<path class="kb" d="M651,432.5h14 M651,441h14 M651,450h15 M718,432.5h24 M723,441.5h20 M722,450h21 M631,466h6 M650,462h12 M650,470h10"/>
<path class="k" d="M677,432.5h24 M677,439h35 M677,440.5h33 M677,442h29 M677,447h37 M677,448.5h35 M677,450h37 M677,451.5h33 M690,453h10"/>
<path class="b" d="M718,434.5h17 M666,461h26 M666,462.5h24 M668,468.5h23 M668,470h20"/>
<path class="r" d="M699,462.5h16 M699,470h14"/>
<path class="cd" d="M746,429 C745,429 745,430 745,431 V436 C745,437 746,437 746,437 M746,438 C745,438 745,439 745,440 V444 C745,445 746,445 746,445 M748,446 C747,446 747,447 747,448 V453 C747,454 748,454 748,454"/>
<path class="k" d="M747,429.5h13 M747,431h11 M747,432.5h12 M747,434h10 M747,435.5h13 M747,438.5h30 M747,440h28 M747,441.5h30 M747,443h24 M749,446.5h24 M749,448h22 M749,449.5h24 M749,451h20 M749,452.5h22"/>
</g>
<g id="mintzberg">
<path d="M781,472 C778,452 790,444 797,444 C806,444 818,452 815,472 Z" fill="#f8f1a2" stroke="#c9bd6a" stroke-width=".5"/>
<rect x="776" y="471" width="44" height="12" rx="4" fill="#f8f1a2" stroke="#c9bd6a" stroke-width=".5"/>
<rect x="792" y="443" width="12" height="6" rx="2" fill="#f8f1a2" stroke="#777" stroke-width=".4"/>
<ellipse cx="790" cy="460" rx="5" ry="10" transform="rotate(-25 790 460)" fill="none" stroke="#777" stroke-width=".5"/>
<ellipse cx="806" cy="458" rx="4" ry="9" transform="rotate(15 806 458)" fill="none" stroke="#777" stroke-width=".5"/>
<path class="k" d="M795,446h6 M786,460h6 M804,459h5 M795,466h6 M792,476h11 M794,478h8"/>
<rect x="757" y="457" width="16" height="4" fill="#fff5e0" stroke="#f0a020" stroke-width=".4"/>
<path class="o" d="M759,459h12"/>
<path fill="none" stroke="#f0a020" stroke-width=".5" d="M773,459 L789,451 M773,459 L786,462 M773,459 L797,466"/>
<rect x="791" y="434" width="14" height="4" fill="#fff" stroke="#f06ab0" stroke-width=".4"/>
<path class="m" d="M793,436h10"/>
<path fill="none" stroke="#f06ab0" stroke-width=".5" d="M798,438 L794,446 M798,438 L801,446 M798,438 L806,452"/>
<rect x="775" y="488" width="16" height="4" fill="#fff" stroke="#a05ae0" stroke-width=".4"/>
<path fill="none" stroke="#a05ae0" stroke-width=".7" d="M777,490h12"/>
<path fill="none" stroke="#a05ae0" stroke-width=".5" d="M786,488 L795,478"/>
</g>
<g id="disseny">
<rect class="ob" x="602" y="502" width="34" height="7"/>
<text class="t" x="619" y="507" font-size="3.2">DISSENY</text>
<path class="kb" d="M650,502h5 M650,532h8 M672,502h11 M672,532h11 M747,489h13 M747,491h8 M747,493h13 M747,501h13 M747,504h13 M747,512h10 M747,514h10 M773,513h17 M773,519h17 M762,529h23 M762,531h16 M762,539h24 M762,541h10"/>
<path class="c" d="M656,502 H671 M659,532 H671"/>
<path class="b" d="M699,491h16 M699,502h20 M699,515h18 M699,530h18 M699,541h18 M699,550h14 M699,559h26 M723,491h17 M723,502h17 M723,504h15 M723,514h17 M723,516h15 M730,529h16 M730,531h14 M730,540h16 M730,542h14 M730,549h18 M730,551h15"/>
<path class="gy" d="M719,491h3 M719,502h3 M719,515h3 M720,530h4 M720,541h4 M716,550h4"/>
<path class="r" d="M760,501h8"/>
<path fill="none" stroke="#3a6ff0" stroke-width=".7" marker-start="url(#ab)" marker-end="url(#ab)" d="M764,513h7 M764,519h7"/>
<rect x="790" y="503" width="38" height="10" fill="#fff" stroke="#e2e2e2" stroke-width=".4"/>
<path class="gy" d="M809,504.5 V506 M796,507 H822 M796,507 V509 M803,507 V509 M809,507 V509 M815,507 V509 M822,507 V509"/>
<path class="k" d="M807,504.5h4 M794,510.5h4 M801,510.5h4 M807,510.5h4 M813,510.5h4 M820,510.5h4"/>
<rect x="790" y="516" width="42" height="7" fill="#fff" stroke="#e2e2e2" stroke-width=".4"/>
<path class="k" d="M809,517.5h4 M793,521h4 M799,521h4 M805,521h4 M811,521h4 M817,521h4 M823,521h4"/>
<rect x="746" y="528.5" width="11" height="3.5" rx="1.7" fill="#f5c542"/>
<rect x="746" y="538.5" width="11" height="3.5" rx="1.7" fill="#f5c542"/>
<path class="kd" d="M748,530.3h7 M748,540.3h7"/>
<rect x="743" y="568.5" width="7" height="3" fill="#2d3a66"/>
<rect x="752" y="558" width="93" height="23" fill="#fff" stroke="#888" stroke-width=".4"/>
<path class="gy" d="M752,562.6h93 M752,567.2h93 M752,571.8h93 M752,576.4h93 M790,558 V581"/>
<path class="k" d="M754,560.3h14 M754,564.9h14 M754,569.5h14 M754,574.1h14 M754,578.7h14"/>
<path class="b" d="M770,560.3h8 M770,564.9h10 M770,569.5h15 M770,574.1h12 M770,578.7h5"/>
<path class="g" d="M792,560.3h22 M792,564.9h18 M792,569.5h35 M792,574.1h40 M792,578.7h50"/>
</g>
<g id="mecanismes">
<rect class="ob" x="553" y="599" width="54" height="9"/>
<text class="t" x="580" y="602.8" font-size="2.6">MECANISMES DE</text>
<text class="t" x="580" y="606.4" font-size="2.6">COORDINACIÓ</text>
</g>
<g id="in-situ">
<rect class="ob" x="615" y="593.5" width="26" height="5"/>
<text class="tb" x="628" y="597.2" font-size="2.8">IN SITU</text>
<path class="b" d="M658,594.5h15 M683,593h20 M683,595h22 M683,597h17 M658,604h14 M683,602h22 M683,604h22 M683,606h17"/>
<path class="gy" d="M676,596h5 M676,604h5"/>
<path class="kb" d="M711,595h11 M710,604h12"/>
<path class="cd" d="M725,590 C724,590 724,591 724,592 V599 C724,600 724,601 725,601 M724,601.5 V606"/>
<path class="k" d="M726,590.5h25 M726,592h22 M726,593.5h24 M726,595h20 M726,596.5h23 M726,598h18 M726,599.5h21 M726,602h26 M726,604h22"/>
</g>
<g id="ex-ante">
<rect class="ob" x="615" y="613.5" width="26" height="5"/>
<text class="tb" x="628" y="617.2" font-size="2.8">EX ANTE</text>
<path class="b" d="M653,616h15 M683,613.5h22 M683,615.5h25 M683,617.5h20 M683,619.5h17"/>
<path class="gy" d="M672,616h6"/>
<path class="kb" d="M711,615h14 M711,617h11 M711,619h9"/>
<path class="cd" d="M728,609 C727,609 727,610 727,611 V619 C727,620 727,621 728,621"/>
<path class="k" d="M729,610h31 M729,611.6h28 M729,613.2h31 M729,614.8h26 M729,616.4h30 M729,618h24 M729,619.6h27"/>
</g>
</svg>
